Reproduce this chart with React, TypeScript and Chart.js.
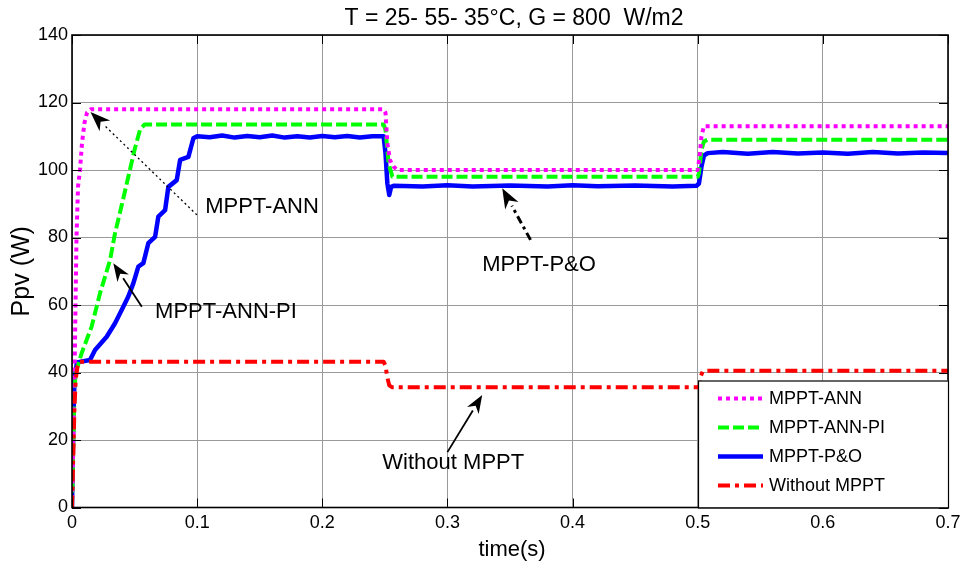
import React, { useEffect, useRef } from "react";
import { Chart, registerables } from "chart.js";

Chart.register(...registerables);

// ---------- data ----------
const seriesLabels = ["MPPT-ANN", "MPPT-ANN-PI", "MPPT-P&O", "Without MPPT"];

const annT = [0, 0.001, 0.002, 0.0028, 0.0036, 0.0048, 0.0064, 0.008, 0.010, 0.012, 0.015, 0.249, 0.2505, 0.252, 0.254, 0.257, 0.26, 0.5, 0.5015, 0.503, 0.505, 0.7];
const annP = [0, 20, 38, 60, 80, 95, 100, 108, 114, 117, 118, 118, 117, 108, 103, 101, 100, 100, 104, 110, 113, 113];

const piT = [0, 0.002, 0.003, 0.0078, 0.0157, 0.0224, 0.0304, 0.0344, 0.040, 0.045, 0.050, 0.0544, 0.058, 0.249, 0.2505, 0.253, 0.256, 0.5, 0.501, 0.503, 0.505, 0.508, 0.7];
const piP = [0, 35, 40, 45.8, 53.6, 63.5, 73.3, 81.3, 90, 98, 106, 112, 113.5, 113.5, 112, 102, 98, 98, 99, 106, 108.5, 109, 109];

const poT = [0, 0.001, 0.002, 0.004, 0.0144, 0.0184, 0.0277, 0.0344, 0.0397, 0.045, 0.049, 0.053, 0.057, 0.061, 0.0664, 0.069, 0.0744, 0.077, 0.0837, 0.0864, 0.093, 0.097, 0.10,
  0.11, 0.12, 0.13, 0.14, 0.15, 0.16, 0.17, 0.18, 0.19, 0.20, 0.21, 0.22, 0.23, 0.24, 0.249,
  0.2505, 0.252, 0.2535, 0.255, 0.257, 0.28, 0.30, 0.32, 0.35, 0.38, 0.40, 0.42, 0.45, 0.48, 0.499,
  0.501, 0.503, 0.505, 0.508, 0.52, 0.54, 0.56, 0.58, 0.60, 0.62, 0.64, 0.66, 0.68, 0.7];
const poP = [0, 25, 38, 43, 43.7, 46.7, 50.6, 54.6, 58.5, 62.5, 66.4, 71.4, 72.4, 78.3, 80.2, 86.2, 88.1, 95, 97, 103, 103.9, 109.4, 110,
  109.7, 110.2, 109.6, 110.1, 109.7, 110.2, 109.6, 110.0, 109.6, 110.1, 109.7, 110.1, 109.6, 110.0, 110,
  105, 96, 92.6, 95, 95.3, 95.1, 95.5, 95.1, 95.4, 95.1, 95.5, 95.2, 95.4, 95.1, 95.3,
  96, 101, 104.3, 105, 105.3, 104.8, 105.3, 104.9, 105.2, 104.8, 105.3, 104.9, 105.2, 105];

const woT = [0, 0.001, 0.002, 0.003, 0.0045, 0.006, 0.249, 0.2505, 0.252, 0.2535, 0.256, 0.5, 0.5015, 0.5025, 0.504, 0.506, 0.7];
const woP = [0, 15, 30, 38, 42, 43.2, 43.2, 42, 38.5, 36.2, 35.6, 35.6, 36, 39, 40.3, 40.5, 40.5];

const xTicks = [0, 0.1, 0.2, 0.3, 0.4, 0.5, 0.6, 0.7];
const yTicks = [0, 20, 40, 60, 80, 100, 120, 140];

const titleText = "T = 25- 55- 35°C, G = 800  W/m2";
const xTitle = "time(s)";
const yTitle = "Ppv (W)";

// annotation layout (data coordinates)
const annotations = [
  { text: "MPPT-ANN", tx: 0.1064, ty: 89.1, from: [0.0998, 86.7], to: [0.0148, 117.2], dash: [2, 3], width: 1.3, head: 20 },
  { text: "MPPT-ANN-PI", tx: 0.0664, ty: 58.0, from: [0.0558, 59.5], to: [0.033, 72.4], dash: [], width: 1.8, head: 18 },
  { text: "MPPT-P&O", tx: 0.3278, ty: 71.9, from: [0.3664, 79.3], to: [0.3438, 94.6], dash: [8, 4, 3, 4], width: 3, head: 20 },
  { text: "Without MPPT", tx: 0.248, ty: 13.1, from: [0.3, 16.4], to: [0.3278, 33.3], dash: [], width: 1.8, head: 18 },
];

const colors = ["#ff00ff", "#00ff00", "#0000ff", "#ff0000"];
const dashes = [[4, 4], [11, 4], [], [12, 5, 4, 5]];
const FONT = "'Liberation Sans', Arial, sans-serif";

function toXY(t: number[], p: number[]) {
  return t.map((v, i) => ({ x: v, y: p[i] }));
}

const overlay = {
  id: "overlay",
  afterDraw(chart: any) {
    const { ctx, chartArea, scales } = chart;
    const { left, right, top, bottom } = chartArea;
    const xs = scales.x, ys = scales.y;
    ctx.save();
    // inward ticks
    ctx.strokeStyle = "#000";
    ctx.lineWidth = 1;
    ctx.setLineDash([]);
    xTicks.forEach((v) => {
      const px = Math.round(xs.getPixelForValue(v)) + 0.5;
      ctx.beginPath();
      ctx.moveTo(px, bottom); ctx.lineTo(px, bottom - 9);
      ctx.moveTo(px, top); ctx.lineTo(px, top + 9);
      ctx.stroke();
    });
    yTicks.forEach((v) => {
      const py = Math.round(ys.getPixelForValue(v)) + 0.5;
      ctx.beginPath();
      ctx.moveTo(left, py); ctx.lineTo(left + 9, py);
      ctx.moveTo(right, py); ctx.lineTo(right - 9, py);
      ctx.stroke();
    });
    // border
    ctx.lineWidth = 1.6;
    ctx.strokeRect(left, top, right - left, bottom - top);

    // annotations
    ctx.fillStyle = "#000";
    ctx.font = `22px ${FONT}`;
    ctx.textBaseline = "middle";
    ctx.textAlign = "left";
    annotations.forEach((a) => {
      const x1 = xs.getPixelForValue(a.from[0]);
      const y1 = ys.getPixelForValue(a.from[1]);
      const x2 = xs.getPixelForValue(a.to[0]);
      const y2 = ys.getPixelForValue(a.to[1]);
      const ang = Math.atan2(y2 - y1, x2 - x1);
      const hx = x2 - a.head * Math.cos(ang);
      const hy = y2 - a.head * Math.sin(ang);
      ctx.beginPath();
      ctx.setLineDash(a.dash);
      ctx.lineWidth = a.width;
      ctx.moveTo(x1, y1);
      ctx.lineTo(hx, hy);
      ctx.stroke();
      ctx.setLineDash([]);
      const w = a.head * 0.38;
      ctx.beginPath();
      ctx.moveTo(x2, y2);
      ctx.lineTo(hx + w * Math.sin(ang), hy - w * Math.cos(ang));
      ctx.lineTo(x2 - a.head * 0.7 * Math.cos(ang), y2 - a.head * 0.7 * Math.sin(ang));
      ctx.lineTo(hx - w * Math.sin(ang), hy + w * Math.cos(ang));
      ctx.closePath();
      ctx.fill();
      ctx.fillText(a.text, xs.getPixelForValue(a.tx), ys.getPixelForValue(a.ty));
    });

    // legend
    const lw = 250, lh = 127;
    const lx = right - lw, ly = bottom - lh;
    ctx.fillStyle = "#fff";
    ctx.fillRect(lx, ly, lw, lh);
    ctx.strokeStyle = "#000";
    ctx.lineWidth = 1.2;
    ctx.strokeRect(lx + 0.5, ly + 0.5, lw, lh);
    ctx.font = `18px ${FONT}`;
    chart.data.datasets.forEach((d: any, i: number) => {
      const yy = ly + 18 + i * 29;
      ctx.strokeStyle = d.borderColor;
      ctx.lineWidth = d.borderWidth;
      ctx.setLineDash(d.borderDash || []);
      ctx.beginPath();
      ctx.moveTo(lx + 20, yy);
      ctx.lineTo(lx + 65, yy);
      ctx.stroke();
      ctx.setLineDash([]);
      ctx.fillStyle = "#000";
      ctx.fillText(d.label, lx + 71, yy + 1);
    });

    // titles
    ctx.fillStyle = "#000";
    ctx.textAlign = "center";
    ctx.font = `23px ${FONT}`;
    ctx.fillText(titleText, (left + right) / 2 + 4, 19);
    ctx.font = `22px ${FONT}`;
    ctx.fillText(xTitle, (left + right) / 2 + 2, 550);
    ctx.save();
    ctx.translate(22, (top + bottom) / 2);
    ctx.rotate(-Math.PI / 2);
    ctx.font = `25px ${FONT}`;
    ctx.fillText(yTitle, 0, 0);
    ctx.restore();
    ctx.restore();
  },
};

export default function App() {
  const ref = useRef<HTMLCanvasElement | null>(null);
  useEffect(() => {
    if (!ref.current) return;
    const all = [toXY(annT, annP), toXY(piT, piP), toXY(poT, poP), toXY(woT, woP)];
    const chart = new Chart(ref.current, {
      type: "line",
      data: {
        datasets: all.map((data, i) => ({
          label: seriesLabels[i],
          data,
          borderColor: colors[i],
          backgroundColor: colors[i],
          borderWidth: i === 2 ? 4.5 : 4,
          borderDash: dashes[i],
          borderJoinStyle: "round",
          pointRadius: 0,
          tension: 0,
          fill: false,
          order: i === 3 ? 0 : i === 2 ? 3 : i === 1 ? 2 : 1,
        })),
      },
      options: {
        responsive: false,
        animation: false,
        parsing: true,
        layout: { padding: { left: 0, right: 15, top: 35, bottom: 0 } },
        plugins: { legend: { display: false }, title: { display: false }, tooltip: { enabled: false } },
        scales: {
          x: {
            type: "linear",
            min: 0,
            max: 0.7,
            afterFit(scale: any) { scale.height = 61.5; scale.paddingRight = 0; scale.paddingLeft = 0; },
            afterBuildTicks(scale: any) { scale.ticks = xTicks.map((v) => ({ value: v })); },
            grid: { color: "#9a9a9a", lineWidth: 1, drawTicks: false },
            border: { display: false },
            ticks: {
              color: "#000",
              font: { family: FONT, size: 18 },
              padding: 5,
              maxRotation: 0,
              callback: (v: any) => String(v),
            },
          },
          y: {
            type: "linear",
            min: 0,
            max: 140,
            afterFit(scale: any) { scale.width = 72; scale.paddingTop = 0; scale.paddingBottom = 0; },
            afterBuildTicks(scale: any) { scale.ticks = yTicks.map((v) => ({ value: v })); },
            grid: { color: "#9a9a9a", lineWidth: 1, drawTicks: false },
            border: { display: false },
            ticks: {
              color: "#000",
              font: { family: FONT, size: 18 },
              padding: 4,
              callback: (v: any) => String(v),
            },
          },
        },
      },
      plugins: [overlay],
    } as any);
    return () => chart.destroy();
  }, []);
  return (
    <div style={{ position: "fixed", left: 0, top: 0, width: 963, height: 569, background: "#fff" }}>
      <canvas ref={ref} width={963} height={569} />
    </div>
  );
}
